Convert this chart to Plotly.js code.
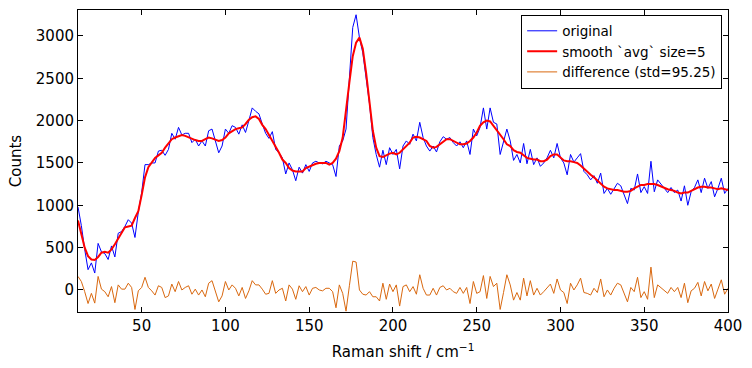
<!DOCTYPE html>
<html>
<head>
<meta charset="utf-8">
<script src="https://cdn.plot.ly/plotly-3.0.1.min.js"></script>
<style>html,body{margin:0;padding:0;background:#fff;}#chart{width:752px;height:368px;}</style>
</head>
<body>
<div id="chart"></div>
<script>
const ramanShift = [12,14,16,18,20,22,24,26,28,30,32,34,36,38,40,42,44,46,48,50,52,54,56,58,60,62,64,66,68,70,72,74,76,78,80,82,84,86,88,90,92,94,96,98,100,102,104,106,108,110,112,114,116,118,120,122,124,126,128,130,132,134,136,138,140,142,144,146,148,150,152,154,156,158,160,162,164,166,168,170,172,174,176,178,180,182,184,186,188,190,192,194,196,198,200,202,204,206,208,210,212,214,216,218,220,222,224,226,228,230,232,234,236,238,240,242,244,246,248,250,252,254,256,258,260,262,264,266,268,270,272,274,276,278,280,282,284,286,288,290,292,294,296,298,300,302,304,306,308,310,312,314,316,318,320,322,324,326,328,330,332,334,336,338,340,342,344,346,348,350,352,354,356,358,360,362,364,366,368,370,372,374,376,378,380,382,384,386,388,390,392,394,396,398,400];

const original = [980,760,480,240,320,200,550,450,430,360,520,390,670,690,750,830,790,620,920,1150,1480,1480,1500,1500,1640,1650,1590,1660,1850,1780,1920,1830,1850,1850,1740,1780,1700,1760,1700,1880,1900,1750,1620,1700,1900,1850,1940,1920,1840,1950,1860,2000,2150,2110,2080,1960,1850,1790,1870,1660,1620,1560,1370,1500,1420,1290,1450,1380,1480,1400,1500,1520,1500,1490,1520,1500,1480,1340,1700,1760,1900,2500,3100,3250,2980,2800,2500,2200,1800,1600,1450,1650,1480,1680,1600,1660,1430,1700,1760,1720,1840,1760,1980,1800,1700,1640,1700,1630,1750,1810,1780,1800,1740,1700,1750,1680,1760,1600,1900,1820,1920,2150,1900,2150,1980,1960,1600,1750,1900,1760,1530,1600,1500,1730,1490,1660,1480,1560,1460,1500,1560,1650,1560,1730,1560,1500,1360,1600,1510,1560,1610,1400,1360,1300,1350,1260,1380,1140,1200,1130,1200,1260,1230,1120,1020,1200,1180,1370,1150,1220,1140,1520,1160,1300,1250,1200,1150,1210,1150,1180,1050,1230,1000,1160,1210,1300,1150,1320,1200,1280,1100,1200,1320,1140,1200];

const smoothAvg = [820,660,500,400,360,355,390,440,450,440,480,540,610,680,740,750,760,850,930,1120,1330,1450,1510,1560,1590,1620,1680,1730,1780,1800,1820,1830,1820,1800,1790,1770,1760,1760,1780,1800,1790,1770,1760,1770,1800,1850,1880,1900,1910,1920,1960,2010,2040,2050,2020,1950,1900,1830,1760,1700,1620,1540,1500,1440,1410,1400,1400,1400,1440,1460,1480,1490,1500,1500,1500,1480,1500,1550,1640,1800,2150,2450,2760,2920,2980,2850,2560,2220,1880,1680,1580,1570,1590,1610,1620,1600,1620,1660,1700,1740,1800,1810,1800,1780,1760,1700,1680,1690,1720,1760,1780,1780,1760,1740,1720,1720,1730,1760,1800,1860,1940,1980,2000,1990,1940,1880,1830,1780,1720,1700,1650,1630,1620,1590,1560,1550,1540,1540,1520,1520,1540,1580,1600,1600,1560,1530,1520,1520,1510,1500,1470,1430,1400,1360,1330,1290,1250,1220,1200,1190,1180,1180,1170,1160,1160,1170,1200,1220,1240,1240,1250,1250,1250,1240,1220,1200,1190,1180,1170,1150,1140,1150,1150,1170,1190,1210,1220,1220,1210,1210,1200,1190,1200,1190,1180];

const difference = [160,100,-20,-160,-40,-155,160,10,-20,-80,40,-150,60,10,10,80,30,-230,-10,30,150,30,-10,-60,50,30,-90,-70,70,-20,100,0,30,50,-50,10,-60,0,-80,80,110,-20,-140,-70,100,0,60,20,-70,30,-100,-10,110,60,60,10,-50,-40,110,-40,0,20,-130,60,10,-110,50,-20,40,-60,20,30,0,-10,20,20,-20,-210,60,-40,-250,50,340,330,0,-50,-60,-20,-80,-80,-130,80,-110,70,-20,60,-190,40,60,-20,40,-50,180,20,-60,-60,20,-60,30,50,0,20,-20,-40,30,-40,30,-160,100,-40,-20,170,-100,160,40,80,-230,-30,180,60,-120,-30,-120,140,-70,110,-60,20,-60,-20,20,70,-40,130,0,-30,-160,80,0,60,140,-30,-40,-60,20,-30,130,-80,0,-60,20,80,60,-40,-140,30,-20,150,-90,-20,-110,270,-90,60,30,0,-40,30,-20,30,-90,80,-150,-10,20,90,-70,100,-10,70,-100,10,120,-50,20];

const seriesNames = ['original', 'smooth `avg` size=5', 'difference (std=95.25)'];
const xTicks = [50,100,150,200,250,300,350,400];
const yTicks = [0,500,1000,1500,2000,2500,3000];

const font = {family: 'DejaVu Sans, sans-serif', size: 15, color: '#000'};

const traces = [
  {x: ramanShift, y: original, name: seriesNames[0], type: 'scatter', mode: 'lines',
   line: {color: '#0000ff', width: 1}},
  {x: ramanShift, y: smoothAvg, name: seriesNames[1], type: 'scatter', mode: 'lines',
   line: {color: '#ff0000', width: 2}},
  {x: ramanShift, y: difference, name: seriesNames[2], type: 'scatter', mode: 'lines',
   line: {color: '#d9680f', width: 1}}
];

const axisCommon = {
  showline: true, linecolor: '#000', linewidth: 1, mirror: 'allticks',
  ticks: 'inside', ticklen: 5, tickwidth: 1, tickcolor: '#000',
  showgrid: false, zeroline: false, tickfont: font
};

const layout = {
  width: 752, height: 368,
  margin: {l: 78, r: 24, t: 10, b: 56},
  paper_bgcolor: '#fff', plot_bgcolor: '#fff',
  font: font,
  showlegend: true,
  legend: {x: 0.991, y: 0.985, xanchor: 'right', yanchor: 'top',
           bgcolor: '#fff', bordercolor: '#000', borderwidth: 1,
           font: {family: 'DejaVu Sans, sans-serif', size: 13.5, color: '#000'},
           tracegroupgap: 0},
  xaxis: Object.assign({}, axisCommon, {
    range: [12, 400], tickvals: xTicks, ticktext: xTicks.map(String),
    title: {text: 'Raman shift / cm<sup>−1</sup>', font: font, standoff: 12}
  }),
  yaxis: Object.assign({}, axisCommon, {
    range: [-260, 3306], tickvals: yTicks, ticktext: yTicks.map(String),
    title: {text: 'Counts', font: font, standoff: 10}
  })
};

Plotly.newPlot('chart', traces, layout, {displayModeBar: false, staticPlot: true});
</script>
</body>
</html>
